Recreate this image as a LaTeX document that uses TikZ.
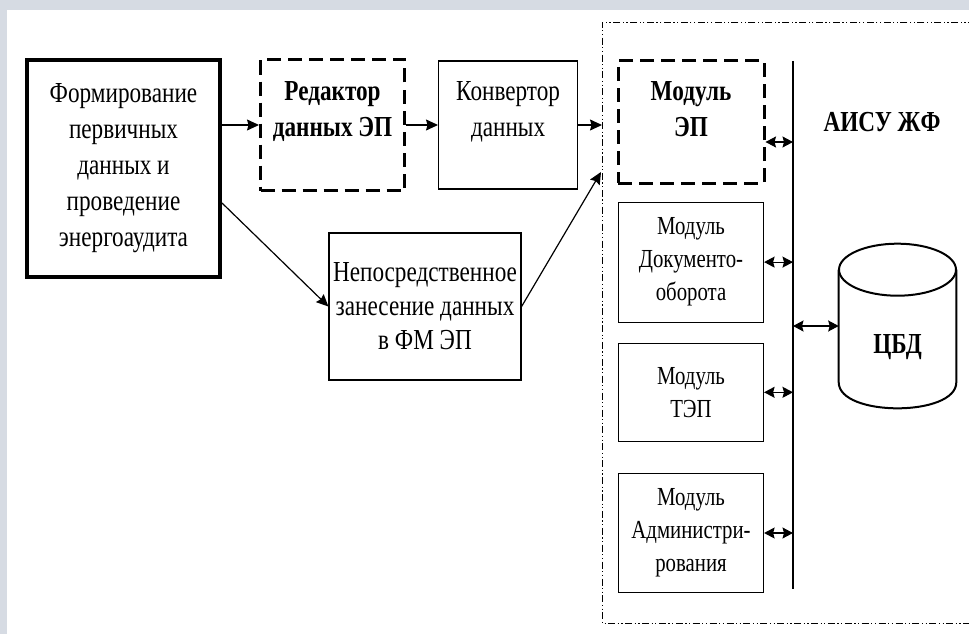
\documentclass[tikz,border=0pt]{standalone}
\usepackage{fontspec}
\setmainfont{Liberation Serif}[FakeStretch=0.8]
\usepackage{tikz}
\usetikzlibrary{positioning}
\usetikzlibrary{arrows.meta}
\definecolor{strip}{rgb}{0.84,0.86,0.89}

\begin{document}
\begin{tikzpicture}[
            x = 1pt, y = -1pt, % pixel grid, y grows downwards
            > = {Stealth[length=12pt, width=11pt, inset=1.5pt]}, % arrow head style
            semithick % line style
            ]

        \tikzstyle{block}=[
            draw,
            line width = 1.2pt,
            align = center,
            inner sep = 2pt,
            font = \fontsize{29}{36}\selectfont
        ]
        \tikzstyle{dashblock}=[
            block,
            line width = 3pt,
            dash pattern = on 14pt off 7pt,
            font = \bfseries\fontsize{29}{36}\selectfont
        ]
        \tikzstyle{module}=[
            block,
            minimum width = 145pt,
            font = \fontsize{26}{33}\selectfont
        ]
        \tikzstyle{link}=[->, line width = 1.2pt]
        \tikzstyle{both}=[{Stealth[length=10.5pt, width=11pt, inset=1.5pt]}-{Stealth[length=10.5pt, width=11pt, inset=1.5pt]}, line width = 1.2pt]

        % page
        \fill[strip] (0,0) rectangle (969,634);
        \fill[white] (7,10) rectangle (969,634);
        \useasboundingbox (0,0) rectangle (969,634);

	% input side
	\node[block, line width=4pt, minimum width=193pt, minimum height=217pt] (form) at (123.5,168.5) {Формирование\\первичных\\данных и\\проведение\\энергоаудита};
	\node[dashblock, minimum width=144pt, minimum height=131pt] (editor) [right=37pt of form.north east, anchor=north west] {Редактор\\данных ЭП\\[-5pt]\mbox{}};
	\node[block, minimum width=139pt, minimum height=128pt] (conv) [right=32pt of editor] {Конвертор\\данных\\[-5pt]\mbox{}};
	\node[block, minimum width=192pt, minimum height=147pt, font=\fontsize{29}{34}\selectfont] (direct) at (425,306.5) {Непосредственное\\занесение данных\\в ФМ ЭП};

         \path[link] (form.east |- editor.west) edge (editor.west);
         \path[link] (editor.east) edge (conv.west);
         \path[link] ([yshift=-34.5pt]form.east) edge (direct.west);

        % system frame
        \coordinate (frameNW) at (602,22);
        \coordinate (frameSW) at (602,623);
        \coordinate (epIn) at (601,172);
        \draw[line width=0.9pt, dash pattern=on 7pt off 2.5pt on 1.2pt off 2.5pt on 1.2pt off 2.5pt]
            (975,22) -- (frameNW) -- (frameSW) -- (975,623);

         \path[link] (conv.east) edge (conv.east -| frameNW);
         \path[link] (direct.east) edge (epIn);

        % modules
        \node[dashblock, minimum width=146pt, minimum height=122pt] (modEP) at (691,122) {Модуль\\ЭП\\[-10pt]\mbox{}};
        \node[module, minimum height=120pt] (modDoc) [below=17pt of modEP] {Модуль\\Документо-\\оборота};
        \node[module, minimum height=98pt] (modTEP) [below=20pt of modDoc] {Модуль\\ТЭП};
        \node[module, minimum height=119pt] (modAdm) [below=31pt of modTEP] {Модуль\\Администри-\\рования};

        % bus
        \coordinate (busTop) at (793,61);
        \coordinate (busBot) at (793,589);
        \draw[line width=1.5pt] (busTop) -- (busBot);

         \path[both] ([yshift=-20pt]modEP.east) edge ([yshift=-20pt]modEP.east -| busTop);
         \path[both] (modDoc.east) edge (modDoc.east -| busTop);
         \path[both] (modTEP.east) edge (modTEP.east -| busTop);
         \path[both] (modAdm.east) edge (modAdm.east -| busTop);

        % database
        \node[font=\bfseries\fontsize{29}{36}\selectfont] (aisu) at (882,122) {АИСУ ЖФ};
        \node[minimum width=117pt, minimum height=112pt, inner sep=0pt] (db) at (897.5,326) {};
        \draw[line width=2pt] (db.north west) -- (db.south west)
            .. controls +(0,34.7) and +(0,34.7) .. (db.south east) -- (db.north east);
        \draw[line width=2pt] (db.north) ellipse [x radius=58.5, y radius=26];
        \node[font=\bfseries\fontsize{29}{36}\selectfont] (dbname) at ([yshift=-21pt]db.center) {ЦБД};

         \path[both] (busTop |- db.west) edge (db.west);

\end{tikzpicture}
\end{document}
